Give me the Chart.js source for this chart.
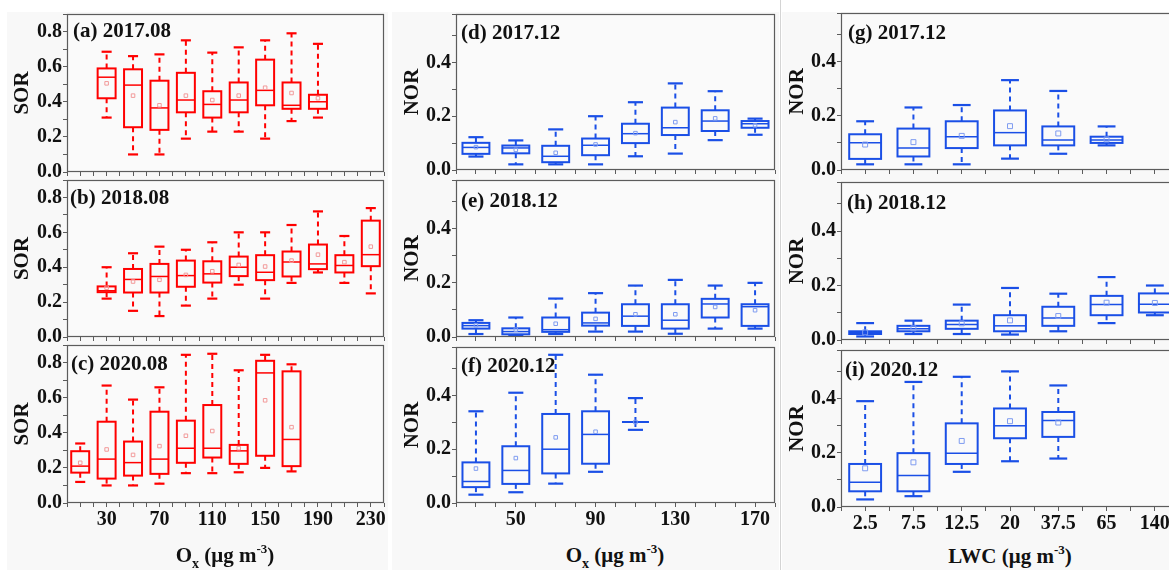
<!DOCTYPE html>
<html><head><meta charset="utf-8">
<script src="https://cdn.jsdelivr.net/npm/chart.js@4.4.1/dist/chart.umd.min.js"></script>
<style>
html,body{margin:0;padding:0;background:#fff;width:1169px;height:570px;overflow:hidden;position:relative;font-family:'Liberation Serif','Times New Roman',serif;}
canvas{position:absolute;}
.lbl{position:absolute;font-weight:bold;font-size:21px;line-height:24px;color:#111;white-space:nowrap;}
.xt{position:absolute;font-weight:bold;font-size:21px;line-height:24px;color:#111;text-align:center;white-space:nowrap;width:300px;}
.xt sub{font-size:14px;vertical-align:-6px;line-height:0;}
.xt sup{font-size:13px;vertical-align:9px;line-height:0;}
.bg{position:absolute;background:#f8f8f8;}
.div{position:absolute;background:#d4d4d4;width:1px;}
</style></head><body>
<div class="bg" style="left:7px;top:12px;width:381px;height:558px"></div>
<div class="bg" style="left:392px;top:12px;width:387px;height:558px"></div>
<div class="bg" style="left:782px;top:12px;width:387px;height:558px"></div>
<div class="div" style="left:780px;top:0;height:570px"></div>
<script>
// ---------- DATA ----------
// Column 1: SOR vs Ox (µg m-3)
const oxA = [30, 50, 70, 90, 110, 130, 150, 170, 190];
const loA   = [0.31, 0.10, 0.10, 0.19, 0.23, 0.23, 0.19, 0.29, 0.31];
const q1A   = [0.42, 0.255, 0.24, 0.34, 0.31, 0.34, 0.38, 0.36, 0.36];
const medA  = [0.54, 0.495, 0.365, 0.41, 0.385, 0.41, 0.465, 0.38, 0.40];
const q3A   = [0.59, 0.585, 0.52, 0.565, 0.46, 0.51, 0.64, 0.51, 0.44];
const hiA   = [0.685, 0.66, 0.67, 0.75, 0.68, 0.71, 0.75, 0.79, 0.73];
const meanA = [0.505, 0.435, 0.38, 0.435, 0.41, 0.435, 0.48, 0.45, 0.42];

const oxB = [30, 50, 70, 90, 110, 130, 150, 170, 190, 210, 230];
const loB   = [0.22, 0.15, 0.12, 0.18, 0.22, 0.30, 0.22, 0.31, 0.37, 0.31, 0.25];
const q1B   = [0.257, 0.255, 0.255, 0.288, 0.312, 0.349, 0.326, 0.347, 0.389, 0.37, 0.406];
const medB  = [0.265, 0.33, 0.347, 0.352, 0.362, 0.40, 0.371, 0.43, 0.419, 0.41, 0.472];
const q3B   = [0.29, 0.39, 0.419, 0.438, 0.434, 0.461, 0.469, 0.49, 0.53, 0.469, 0.667];
const hiB   = [0.40, 0.48, 0.518, 0.50, 0.543, 0.60, 0.60, 0.642, 0.72, 0.579, 0.739];
const meanB = [0.282, 0.318, 0.328, 0.356, 0.377, 0.413, 0.404, 0.438, 0.472, 0.429, 0.518];

const oxC = [10, 30, 50, 70, 90, 110, 130, 150, 170];
const loC   = [0.12, 0.10, 0.10, 0.11, 0.17, 0.17, 0.175, 0.20, 0.18];
const q1C   = [0.173, 0.139, 0.156, 0.166, 0.229, 0.259, 0.223, 0.269, 0.21];
const medC  = [0.21, 0.25, 0.23, 0.25, 0.312, 0.312, 0.297, 0.741, 0.362];
const q3C   = [0.295, 0.463, 0.35, 0.52, 0.469, 0.558, 0.331, 0.81, 0.75];
const hiC   = [0.339, 0.669, 0.589, 0.659, 0.844, 0.85, 0.756, 0.844, 0.79];
const meanC = [0.229, 0.305, 0.274, 0.324, 0.383, 0.41, 0.312, 0.585, 0.432];

// Column 2: NOR vs Ox (µg m-3)
const oxD = [30, 50, 70, 90, 110, 130, 150, 170];
const loD   = [0.05, 0.021, 0.021, 0.021, 0.051, 0.061, 0.111, 0.131];
const q1D   = [0.06, 0.062, 0.029, 0.055, 0.10, 0.13, 0.145, 0.157];
const medD  = [0.084, 0.082, 0.051, 0.092, 0.135, 0.157, 0.182, 0.172];
const q3D   = [0.101, 0.091, 0.09, 0.117, 0.172, 0.232, 0.222, 0.182];
const hiD   = [0.122, 0.11, 0.151, 0.20, 0.252, 0.322, 0.293, 0.191];
const meanD = [0.085, 0.075, 0.064, 0.095, 0.137, 0.178, 0.192, 0.166];

const oxE = [30, 50, 70, 90, 110, 130, 150, 170];
const loE   = [0.011, 0.005, 0.011, 0.02, 0.02, 0.012, 0.031, 0.031];
const q1E   = [0.031, 0.01, 0.019, 0.042, 0.041, 0.031, 0.072, 0.041];
const medE  = [0.042, 0.02, 0.027, 0.052, 0.077, 0.062, 0.122, 0.112];
const q3E   = [0.052, 0.032, 0.072, 0.09, 0.121, 0.121, 0.141, 0.121];
const hiE   = [0.062, 0.072, 0.142, 0.162, 0.19, 0.211, 0.19, 0.20];
const meanE = [0.043, 0.027, 0.049, 0.067, 0.084, 0.084, 0.111, 0.099];

const oxF = [30, 50, 70, 90, 110];
const loF   = [0.031, 0.04, 0.072, 0.116, 0.272];
const q1F   = [0.059, 0.071, 0.11, 0.146, 0.301];
const medF  = [0.08, 0.121, 0.20, 0.255, 0.301];
const q3F   = [0.151, 0.211, 0.331, 0.341, 0.301];
const hiF   = [0.341, 0.41, 0.551, 0.477, 0.39];
const meanF = [0.128, 0.167, 0.244, 0.265, 0.301];

// Column 3: NOR vs LWC (µg m-3)
const lwcCats = ['2.5', '7.5', '12.5', '20', '37.5', '65', '140'];
const loG   = [0.021, 0.021, 0.021, 0.042, 0.06, 0.091];
const q1G   = [0.041, 0.05, 0.081, 0.091, 0.091, 0.10];
const medG  = [0.101, 0.081, 0.123, 0.138, 0.111, 0.111];
const q3G   = [0.132, 0.153, 0.18, 0.22, 0.161, 0.123];
const hiG   = [0.18, 0.231, 0.24, 0.332, 0.292, 0.161];
const meanG = [0.094, 0.103, 0.126, 0.162, 0.135, 0.113];

const loH   = [0.013, 0.022, 0.022, 0.02, 0.032, 0.062, 0.091];
const q1H   = [0.022, 0.032, 0.041, 0.032, 0.052, 0.091, 0.101];
const medH  = [0.027, 0.041, 0.057, 0.052, 0.081, 0.13, 0.131];
const q3H   = [0.032, 0.052, 0.071, 0.091, 0.122, 0.162, 0.171];
const hiH   = [0.062, 0.071, 0.13, 0.191, 0.17, 0.231, 0.20];
const meanH = [0.028, 0.043, 0.061, 0.072, 0.088, 0.137, 0.136];

const loI   = [0.028, 0.04, 0.13, 0.169, 0.179];
const q1I   = [0.058, 0.058, 0.159, 0.254, 0.259];
const medI  = [0.091, 0.116, 0.199, 0.30, 0.32];
const q3I   = [0.159, 0.199, 0.309, 0.364, 0.351];
const hiI   = [0.391, 0.462, 0.481, 0.501, 0.449];
const meanI = [0.143, 0.165, 0.244, 0.317, 0.312];

// ---------- STYLE / LAYOUT ----------
const RED = '#ff0000', RED_MEAN = '#f29a9a';
const BLUE = '#1a4fe6', BLUE_MEAN = '#7f9cf0';
const FRAME = '#5c5c5c';
const FONT = "'Liberation Serif','Times New Roman',serif";
const YW = 60, PT = 6, PR = 8;

function isMul(v, s){ return Math.abs(v/s - Math.round(v/s)) < 1e-6; }

function makePanel(c){
  const H = c.bottom ? 34 : 14;
  const cv = document.createElement('canvas');
  const w = YW + (c.r - c.l) + PR, h = PT + (c.b - c.t) + H;
  cv.width = w; cv.height = h;
  cv.style.left = (c.l - YW) + 'px'; cv.style.top = (c.t - PT) + 'px';
  document.body.appendChild(cv);
  const idx = c.xs || c.lo.map((_, i) => i);
  const plug = {
    id: 'box' + c.name,
    beforeDraw(ch){
      const a = ch.chartArea, ctx = ch.ctx;
      ctx.save(); ctx.fillStyle = '#fafafa';
      ctx.fillRect(a.left, a.top, a.right - a.left, a.bottom - a.top); ctx.restore();
    },
    beforeDatasetsDraw(ch){
      const ctx = ch.ctx, xs = ch.scales.x, ys = ch.scales.y;
      ctx.save();
      ctx.strokeStyle = c.color;
      idx.forEach((xv, i) => {
        const xp = xs.getPixelForValue(xv);
        const bw = Math.abs(xs.getPixelForValue(xv + c.bw/2) - xs.getPixelForValue(xv - c.bw/2));
        const cw = bw * 0.56;
        const yLo = ys.getPixelForValue(c.lo[i]), yQ1 = ys.getPixelForValue(c.q1[i]);
        const yMd = ys.getPixelForValue(c.med[i]), yQ3 = ys.getPixelForValue(c.q3[i]);
        const yHi = ys.getPixelForValue(c.hi[i]);
        // whiskers (dashed)
        ctx.lineWidth = 2; ctx.setLineDash([5, 4]);
        ctx.beginPath(); ctx.moveTo(xp, yQ3); ctx.lineTo(xp, yHi); ctx.stroke();
        ctx.beginPath(); ctx.moveTo(xp, yQ1); ctx.lineTo(xp, yLo); ctx.stroke();
        ctx.setLineDash([]);
        // caps
        ctx.lineWidth = 2.2;
        ctx.beginPath(); ctx.moveTo(xp - cw/2, yHi); ctx.lineTo(xp + cw/2, yHi); ctx.stroke();
        ctx.beginPath(); ctx.moveTo(xp - cw/2, yLo); ctx.lineTo(xp + cw/2, yLo); ctx.stroke();
        // box
        ctx.lineWidth = 2;
        ctx.strokeRect(xp - bw/2, yQ3, bw, yQ1 - yQ3);
        // median
        ctx.lineWidth = 1.5;
        ctx.beginPath(); ctx.moveTo(xp - bw/2, yMd); ctx.lineTo(xp + bw/2, yMd); ctx.stroke();
      });
      ctx.restore();
    },
    afterDraw(ch){
      const a = ch.chartArea, ctx = ch.ctx;
      ctx.save(); ctx.strokeStyle = FRAME; ctx.lineWidth = 1.2;
      ctx.strokeRect(Math.round(a.left) + 0.5, Math.round(a.top) + 0.5,
                     Math.round(a.right - a.left) - 1, Math.round(a.bottom - a.top) - 1);
      ctx.restore();
    }
  };
  new Chart(cv, {
    type: 'scatter',
    data: { datasets: [{
      data: idx.map((x, i) => ({ x: x, y: c.mean[i] })),
      pointStyle: 'rect', pointRadius: c.mr, pointBorderWidth: 1,
      pointBorderColor: c.meanColor, pointBackgroundColor: 'rgba(0,0,0,0)'
    }]},
    options: {
      responsive: false, animation: false, devicePixelRatio: 1, events: [],
      layout: { padding: { top: PT, right: PR, left: 0, bottom: 0 } },
      plugins: { legend: { display: false }, tooltip: { enabled: false } },
      scales: {
        x: {
          type: 'linear', min: c.xMin, max: c.xMax,
          ticks: { stepSize: c.xStep, autoSkip: false, maxRotation: 0, minRotation: 0,
                   padding: 1, color: '#111', font: { family: FONT, size: 20, weight: 'bold' },
                   callback: v => c.bottom ? c.xLab(v) : '' },
          grid: { drawOnChartArea: false, drawTicks: true, tickLength: 4, color: FRAME },
          border: { display: false },
          afterFit: s => { s.height = H; s.paddingLeft = 0; s.paddingRight = 0; }
        },
        y: {
          min: 0, max: c.yMax,
          ticks: { stepSize: 0.1, autoSkip: false, padding: 1, color: '#111',
                   font: { family: FONT, size: 20, weight: 'bold' },
                   callback: v => isMul(v, 0.2) ? v.toFixed(1) : '' },
          grid: { drawOnChartArea: false, drawTicks: true, tickLength: 4, color: FRAME },
          border: { display: false },
          title: { display: true, text: c.yTitle, color: '#111',
                   font: { family: FONT, size: 21, weight: 'bold', lineHeight: 1.2 },
                   padding: { top: c.tp, bottom: 0 } },
          afterFit: s => { s.width = YW; s.paddingTop = 0; s.paddingBottom = 0; }
        }
      }
    },
    plugins: [plug]
  });
}

const oxLab1 = v => (v >= 30 && isMul(v - 30, 40)) ? String(v) : '';
const oxLab2 = v => (v >= 50 && isMul(v - 50, 40)) ? String(v) : '';
const lwcLab = v => Number.isInteger(v) && v >= 0 && v < lwcCats.length ? lwcCats[v] : '';

const col1 = { l: 67, r: 384, xMin: 0, xMax: 240, xStep: 10, xLab: oxLab1, yMax: 0.9, yTitle: 'SOR', tp: 3,
               color: RED, meanColor: RED_MEAN, bw: 13.6, mr: 2.5 };
const col2 = { l: 456, r: 775, xMin: 20, xMax: 180, xStep: 10, xLab: oxLab2, yMax: 0.58, yTitle: 'NOR', tp: 4,
               color: BLUE, meanColor: BLUE_MEAN, bw: 13.5, mr: 2.5 };
const col3 = { l: 841, r: 1179, xMin: -0.5, xMax: 6.5, xStep: 0.5, xLab: lwcLab, yMax: 0.58, yTitle: 'NOR', tp: 4,
               color: BLUE, meanColor: BLUE_MEAN, bw: 0.66, mr: 3.5 };

makePanel(Object.assign({}, col1, { name: 'a', t: 14, b: 172, xs: oxA, lo: loA, q1: q1A, med: medA, q3: q3A, hi: hiA, mean: meanA }));
makePanel(Object.assign({}, col1, { name: 'b', t: 180, b: 337, xs: oxB, lo: loB, q1: q1B, med: medB, q3: q3B, hi: hiB, mean: meanB }));
makePanel(Object.assign({}, col1, { name: 'c', t: 345, b: 503, bottom: true, xs: oxC, lo: loC, q1: q1C, med: medC, q3: q3C, hi: hiC, mean: meanC }));
makePanel(Object.assign({}, col2, { name: 'd', t: 14, b: 170, xs: oxD, lo: loD, q1: q1D, med: medD, q3: q3D, hi: hiD, mean: meanD }));
makePanel(Object.assign({}, col2, { name: 'e', t: 180, b: 337, xs: oxE, lo: loE, q1: q1E, med: medE, q3: q3E, hi: hiE, mean: meanE }));
makePanel(Object.assign({}, col2, { name: 'f', t: 347, b: 503, bottom: true, xs: oxF, lo: loF, q1: q1F, med: medF, q3: q3F, hi: hiF, mean: meanF }));
makePanel(Object.assign({}, col3, { name: 'g', t: 13, b: 170, lo: loG, q1: q1G, med: medG, q3: q3G, hi: hiG, mean: meanG }));
makePanel(Object.assign({}, col3, { name: 'h', t: 182, b: 340, lo: loH, q1: q1H, med: medH, q3: q3H, hi: hiH, mean: meanH }));
makePanel(Object.assign({}, col3, { name: 'i', t: 350, b: 507, bottom: true, lo: loI, q1: q1I, med: medI, q3: q3I, hi: hiI, mean: meanI }));

// ---------- TEXT LABELS ----------
const panelLabels = [
  ['(a) 2017.08', 73, 18], ['(b) 2018.08', 70, 185], ['(c) 2020.08', 71, 351],
  ['(d) 2017.12', 461, 20], ['(e) 2018.12', 461, 188], ['(f) 2020.12', 461, 353],
  ['(g) 2017.12', 848, 20], ['(h) 2018.12', 847, 190], ['(i) 2020.12', 845, 357]
];
panelLabels.forEach(([t, x, y]) => {
  const d = document.createElement('div'); d.className = 'lbl';
  d.style.left = x + 'px'; d.style.top = y + 'px'; d.textContent = t;
  document.body.appendChild(d);
});
const xTitles = [
  ['O<sub>x</sub> (μg m<sup>-3</sup>)', 225, 543],
  ['O<sub>x</sub> (μg m<sup>-3</sup>)', 615, 543],
  ['LWC (μg m<sup>-3</sup>)', 1010, 544]
];
xTitles.forEach(([t, cx, y]) => {
  const d = document.createElement('div'); d.className = 'xt';
  d.style.left = (cx - 150) + 'px'; d.style.top = y + 'px'; d.innerHTML = t;
  document.body.appendChild(d);
});
</script>
</body></html>
